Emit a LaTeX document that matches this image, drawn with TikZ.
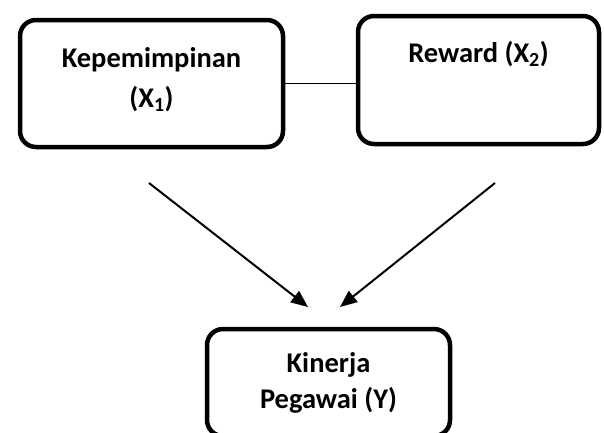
\documentclass[tikz,border=0pt]{standalone}
\usepackage{fontspec}
\setmainfont{Carlito}
\usetikzlibrary{arrows.meta}
\tikzstyle{varbox}=[rectangle, draw, line width=4.5pt, rounded corners=16pt, align=center, font=\bfseries\fontsize{28.5}{40}\selectfont, inner sep=0pt]
\tikzstyle{link}=[line width=1.6pt]
\tikzstyle{effect}=[line width=2pt, -{Triangle[length=17pt,width=14pt]}]

\begin{document}
\begin{tikzpicture}[x=1pt,y=-1pt]
  \useasboundingbox (0,0) rectangle (604,432);
  \node[varbox, minimum width=263pt, text height=87pt, text depth=40pt] (lead) at (151.5,83.5) {Kepemimpinan\\(X\textsubscript{1})};
  \node[varbox, minimum width=241pt, text height=46pt, text depth=82pt] (reward) at (478.5,80) {Reward (X\textsubscript{2})};
  \node[varbox, minimum width=243pt, minimum height=107pt, font=\bfseries\fontsize{28.5}{36}\selectfont] (perf) at (328.5,382.5) {Kinerja\\Pegawai (Y)};
  \coordinate (leadout) at (149,183);
  \coordinate (rewardout) at (495,183);
  \coordinate (perfinl) at (308,307);
  \coordinate (perfinr) at (340,307);
  \draw[link] (lead) -- (lead -| reward.west);
  \draw[effect] (leadout) -- (perfinl);
  \draw[effect] (rewardout) -- (perfinr);
\end{tikzpicture}
\end{document}
